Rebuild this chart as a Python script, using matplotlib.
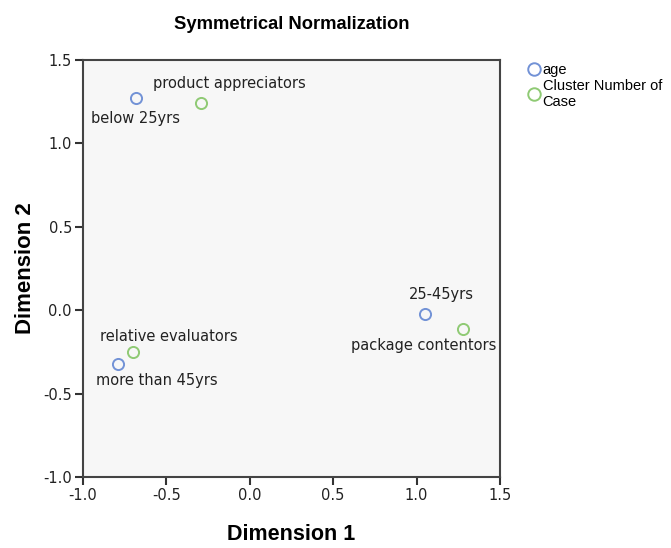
import numpy as np
import matplotlib
matplotlib.use('Agg')
import matplotlib.pyplot as plt
from matplotlib.lines import Line2D

plt.rcParams['font.family'] = ['Liberation Sans', 'DejaVu Sans']

# row points (age) and column points (cluster)
age_labels = ['below 25yrs', '25-45yrs', 'more than 45yrs']
age_x = [-0.68, 1.05, -0.79]
age_y = [1.27, -0.02, -0.32]

clu_labels = ['product appreciators', 'package contentors', 'relative evaluators']
clu_x = [-0.29, 1.28, -0.70]
clu_y = [1.24, -0.11, -0.25]

# label offsets (pixels) like SPSS places them
age_off = [(-1, -20), (17, 19), (39, -17)]
clu_off = [(28, 20), (-40, -17), (36, 15)]

ticks = [-1.0, -0.5, 0.0, 0.5, 1.0, 1.5]

blue = '#7292d6'
green = '#8fca74'

fig = plt.figure(figsize=(6.71, 5.48), dpi=100)
ax = fig.add_axes([0.1237, 0.1296, 0.6213, 0.7609])
ax.set_facecolor('#f7f7f7')

ax.plot(age_x, age_y, 'o', ms=8, mfc='none', mec=blue, mew=1.4, clip_on=False)
ax.plot(clu_x, clu_y, 'o', ms=8, mfc='none', mec=green, mew=1.4, clip_on=False)

for lab, x, y, off in zip(age_labels, age_x, age_y, age_off):
    ax.annotate(lab, (x, y), xytext=off, textcoords='offset pixels',
                ha='center', va='center', fontsize=10.5, color='#222222',
                family='DejaVu Sans')
for lab, x, y, off in zip(clu_labels, clu_x, clu_y, clu_off):
    ax.annotate(lab, (x, y), xytext=off, textcoords='offset pixels',
                ha='center', va='center', fontsize=10.5, color='#222222',
                family='DejaVu Sans')

ax.set_xlim(-1.0, 1.5)
ax.set_ylim(-1.0, 1.5)
ax.set_xticks(ticks)
ax.set_yticks(ticks)
ax.set_xticklabels(['%.1f' % t for t in ticks])
ax.set_yticklabels(['%.1f' % t for t in ticks])
ax.tick_params(direction='out', length=6, width=1.5, color='#333333',
               labelsize=10.5, labelcolor='#222222', pad=2)
for lbl in ax.get_xticklabels() + ax.get_yticklabels():
    lbl.set_family('DejaVu Sans')
for s in ax.spines.values():
    s.set_color('#444444')
    s.set_linewidth(1.5)

ax.set_xlabel('Dimension 1', fontsize=15.5, fontweight='bold', labelpad=15)
ax.set_ylabel('Dimension 2', fontsize=16, fontweight='bold', labelpad=5)
ax.set_title('Symmetrical Normalization', fontsize=13.2, fontweight='bold', pad=22)

handles = [Line2D([], [], ls='none', marker='o', ms=9, mfc='none', mec=blue, mew=1.4),
           Line2D([], [], ls='none', marker='o', ms=9, mfc='none', mec=green, mew=1.4)]
fig.legend(handles, ['age', 'Cluster Number of\nCase'], loc='upper left',
           bbox_to_anchor=(0.774, 0.895), frameon=False, fontsize=10.5,
           handletextpad=0.0, handlelength=1.2, labelspacing=0.1,
           borderaxespad=0)

fig.savefig('out.png', dpi=100)
